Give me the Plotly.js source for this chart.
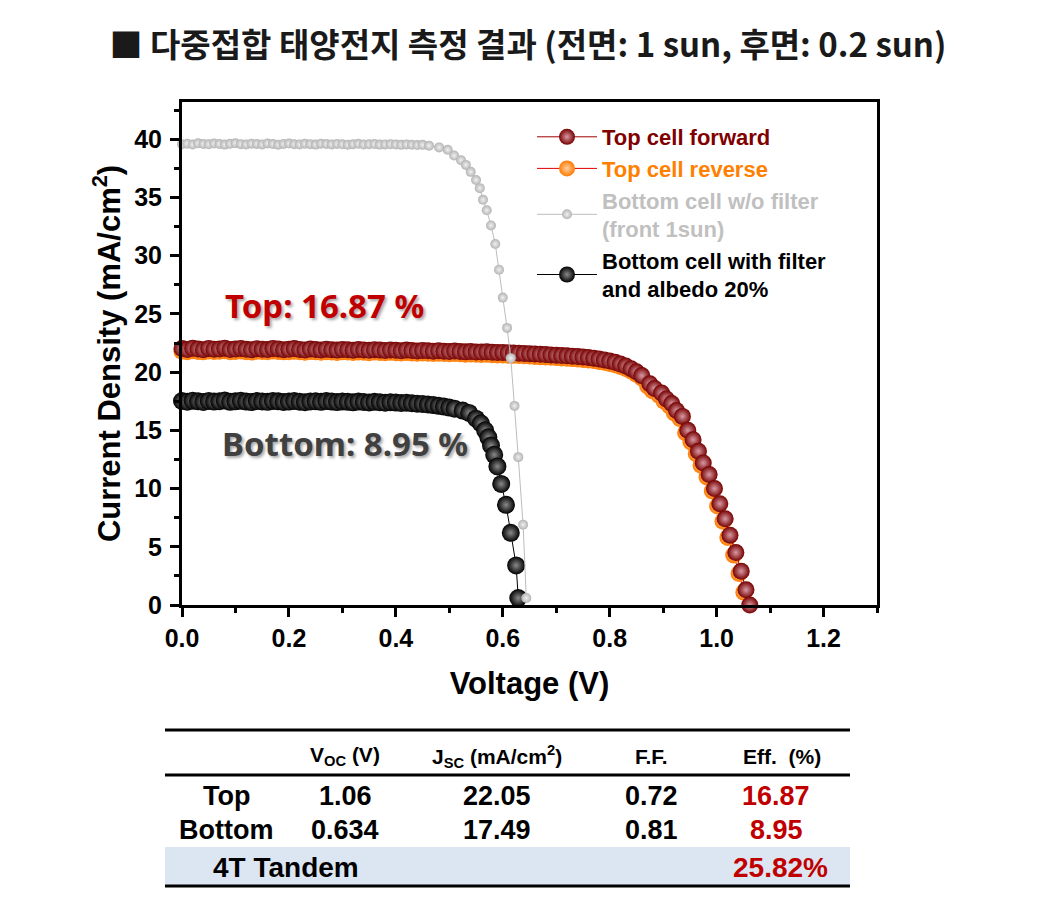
<!DOCTYPE html>
<html>
<head>
<meta charset="utf-8">
<script src="https://cdn.plot.ly/plotly-3.0.1.min.js"></script>
<style>
  html, body { margin: 0; padding: 0; background: #ffffff; }
  #chart { width: 1046px; height: 898px; }
</style>
</head>
<body>
<div id="chart"></div>
<script>
// ---------------- Data ----------------
// Top cell, forward scan
const topFwdV = [0.00,0.01,0.02,0.03,0.04,0.05,0.06,0.07,0.08,0.09,0.10,0.11,0.12,0.13,0.14,0.15,0.16,0.17,0.18,0.19,
  0.20,0.21,0.22,0.23,0.24,0.25,0.26,0.27,0.28,0.29,0.30,0.31,0.32,0.33,0.34,0.35,0.36,0.37,0.38,0.39,
  0.40,0.41,0.42,0.43,0.44,0.45,0.46,0.47,0.48,0.49,0.50,0.51,0.52,0.53,0.54,0.55,0.56,0.57,0.58,0.59,
  0.60,0.61,0.62,0.63,0.64,0.65,0.66,0.67,0.68,0.69,0.70,0.71,0.72,0.73,0.74,0.75,0.76,0.77,0.78,0.79,
  0.80,0.81,0.82,0.83,0.84,0.85,0.86,0.875,0.884,0.897,0.906,0.916,0.925,0.936,0.946,0.956,0.966,0.975,
  0.986,0.996,1.006,1.016,1.025,1.036,1.046,1.055,1.062];
const topFwdJ = [22.02,21.95,22.05,21.98,21.93,22.04,21.97,21.99,22.06,21.94,21.98,22.03,21.96,21.92,22.01,21.97,21.95,22.04,21.99,21.93,
  21.96,22.02,21.95,21.91,21.98,21.94,21.90,21.97,21.93,21.89,21.95,21.92,21.88,21.94,21.90,21.87,21.93,21.89,21.86,21.91,
  21.87,21.84,21.89,21.85,21.82,21.86,21.83,21.80,21.84,21.80,21.77,21.81,21.77,21.74,21.77,21.73,21.72,21.74,21.70,21.68,
  21.69,21.66,21.64,21.63,21.60,21.58,21.56,21.53,21.51,21.48,21.45,21.42,21.40,21.37,21.34,21.30,21.26,21.20,21.13,21.05,
  20.96,20.84,20.70,20.52,20.30,20.03,19.70,19.00,18.60,18.20,17.70,17.30,16.70,16.20,15.00,14.20,13.20,12.20,
  11.20,10.00,8.70,7.40,6.00,4.50,2.90,1.30,0.00];

// Top cell, reverse scan
const topRevV = [0.00,0.01,0.02,0.03,0.04,0.05,0.06,0.07,0.08,0.09,0.10,0.11,0.12,0.13,0.14,0.15,0.16,0.17,0.18,0.19,
  0.20,0.21,0.22,0.23,0.24,0.25,0.26,0.27,0.28,0.29,0.30,0.31,0.32,0.33,0.34,0.35,0.36,0.37,0.38,0.39,
  0.40,0.41,0.42,0.43,0.44,0.45,0.46,0.47,0.48,0.49,0.50,0.51,0.52,0.53,0.54,0.55,0.56,0.57,0.58,0.59,
  0.60,0.61,0.62,0.63,0.64,0.65,0.66,0.67,0.68,0.69,0.70,0.71,0.72,0.73,0.74,0.75,0.76,0.77,0.78,0.79,
  0.80,0.81,0.82,0.83,0.84,0.85,0.86,0.871,0.880,0.893,0.902,0.912,0.921,0.932,0.942,0.952,0.962,0.971,
  0.982,0.992,1.002,1.012,1.021,1.032,1.042,1.051,1.058];
const topRevJ = [21.80,21.76,21.83,21.78,21.74,21.82,21.77,21.79,21.84,21.75,21.78,21.81,21.76,21.73,21.80,21.77,21.75,21.82,21.78,21.74,
  21.76,21.80,21.75,21.71,21.77,21.74,21.70,21.76,21.73,21.69,21.74,21.72,21.68,21.73,21.70,21.67,21.72,21.69,21.66,21.70,
  21.67,21.64,21.68,21.65,21.62,21.65,21.63,21.60,21.63,21.60,21.57,21.60,21.57,21.54,21.56,21.53,21.52,21.53,21.50,21.48,
  21.48,21.46,21.44,21.42,21.40,21.38,21.35,21.33,21.30,21.27,21.25,21.22,21.19,21.16,21.13,21.09,21.05,20.99,20.92,20.84,
  20.75,20.63,20.49,20.31,20.09,19.82,19.49,18.80,18.40,18.00,17.50,17.10,16.50,16.00,14.80,14.00,13.00,12.00,
  11.00,9.80,8.50,7.20,5.80,4.30,2.70,1.10,-0.10];

// Bottom cell without filter (front 1 sun)
const botNoFiltV = [0.00,0.01,0.02,0.03,0.04,0.05,0.06,0.07,0.08,0.09,0.10,0.11,0.12,0.13,0.14,0.15,0.16,0.17,0.18,0.19,
  0.20,0.21,0.22,0.23,0.24,0.25,0.26,0.27,0.28,0.29,0.30,0.31,0.32,0.33,0.34,0.35,0.36,0.37,0.38,0.39,
  0.40,0.41,0.42,0.43,0.44,0.45,0.462,0.481,0.497,0.509,0.522,0.531,0.540,0.550,0.557,0.563,0.570,0.578,
  0.586,0.593,0.600,0.608,0.615,0.622,0.629,0.638,0.644];
const botNoFiltJ = [39.58,39.62,39.55,39.65,39.60,39.57,39.63,39.59,39.54,39.61,39.66,39.58,39.55,39.62,39.60,39.56,39.64,39.59,39.53,39.60,
  39.63,39.57,39.55,39.61,39.58,39.54,39.62,39.59,39.56,39.60,39.57,39.53,39.58,39.61,39.55,39.57,39.59,39.54,39.56,39.58,
  39.55,39.52,39.56,39.53,39.50,39.52,39.45,39.30,39.10,38.60,38.20,37.80,37.20,36.50,35.80,34.80,33.90,32.60,
  31.00,28.80,26.40,23.80,21.20,17.10,12.70,6.90,0.60];

// Bottom cell with filter and albedo 20%
const botFiltV = [0.00,0.01,0.02,0.03,0.04,0.05,0.06,0.07,0.08,0.09,0.10,0.11,0.12,0.13,0.14,0.15,0.16,0.17,0.18,0.19,
  0.20,0.21,0.22,0.23,0.24,0.25,0.26,0.27,0.28,0.29,0.30,0.31,0.32,0.33,0.34,0.35,0.36,0.37,0.38,0.39,
  0.40,0.41,0.42,0.43,0.44,0.45,0.46,0.47,0.48,0.49,0.50,0.51,0.525,0.537,0.550,0.559,0.567,0.573,0.578,
  0.584,0.590,0.597,0.606,0.615,0.625,0.629];
const botFiltJ = [17.52,17.46,17.55,17.49,17.44,17.53,17.47,17.50,17.56,17.45,17.49,17.54,17.47,17.43,17.51,17.48,17.45,17.53,17.49,17.44,
  17.47,17.52,17.46,17.42,17.48,17.50,17.45,17.51,17.47,17.43,17.48,17.45,17.41,17.47,17.44,17.40,17.45,17.42,17.38,17.42,
  17.39,17.35,17.37,17.33,17.29,17.27,17.22,17.17,17.11,17.04,16.96,16.86,16.70,16.50,16.00,15.60,15.00,14.40,13.70,
  12.90,11.90,10.40,8.60,6.20,3.40,0.60];

// Axis tick values
const xTicks = [0.0, 0.2, 0.4, 0.6, 0.8, 1.0, 1.2];
const xTickText = ['0.0','0.2','0.4','0.6','0.8','1.0','1.2'];
const yTicks = [0, 5, 10, 15, 20, 25, 30, 35, 40];

// Summary table
const tableHeader = ['V<sub>OC</sub> (V)', 'J<sub>SC</sub> (mA/cm<sup>2</sup>)', 'F.F.', 'Eff.  (%)'];
const rowNames = ['Top', 'Bottom'];
const vocVals = ['1.06', '0.634'];
const jscVals = ['22.05', '17.49'];
const ffVals  = ['0.72', '0.81'];
const effVals = ['16.87', '8.95'];
const tandemLabel = '4T Tandem';
const tandemEff = '25.82%';

// Series labels
const seriesNames = ['Top cell forward', 'Top cell reverse', 'Bottom cell w/o filter<br>(front 1sun)', 'Bottom cell with filter<br>and albedo 20%'];
const seriesTextColors = ['#800000', '#ff8000', '#c0c0c0', '#000000'];

// ---------------- Layout helpers (pixel -> paper) ----------------
const PL = 182, PR = 877, PT = 102, PB = 605;
const px = x => (x - PL) / (PR - PL);
const py = y => (PB - y) / (PB - PT);

const FONT = 'Liberation Sans, Arial, sans-serif';

function legName(i) {
  return '<span style="color:' + seriesTextColors[i] + '">' + seriesNames[i] + '</span>';
}

const traces = [
  { // bottom with filter (drawn first)
    x: botFiltV, y: botFiltJ, type: 'scatter', mode: 'lines+markers', name: legName(3), legendrank: 4,
    line: { color: '#000000', width: 1 }, cliponaxis: false,
    marker: { size: 18, color: '#000000', line: { width: 0 }, gradient: { type: 'radial', color: '#8a8a8a' } }
  },
  { // top reverse
    x: topRevV, y: topRevJ, type: 'scatter', mode: 'lines+markers', name: legName(1), legendrank: 2,
    line: { color: '#e00000', width: 1 }, cliponaxis: false,
    marker: { size: 17, color: '#ff7a00', line: { width: 0 }, gradient: { type: 'radial', color: '#ffd0a0' } }
  },
  { // top forward
    x: topFwdV, y: topFwdJ, type: 'scatter', mode: 'lines+markers', name: legName(0), legendrank: 1,
    line: { color: '#a00000', width: 1 }, cliponaxis: false,
    marker: { size: 17, color: '#760000', line: { width: 0 }, gradient: { type: 'radial', color: '#d89aa4' } }
  },
  { // bottom without filter (top-most)
    x: botNoFiltV, y: botNoFiltJ, type: 'scatter', mode: 'lines+markers', name: legName(2), legendrank: 3,
    line: { color: '#bdbdbd', width: 1 }, cliponaxis: false,
    marker: { size: 10, color: '#b4b4b4', line: { width: 0 }, gradient: { type: 'radial', color: '#f0f0f0' } }
  }
];

// ---------------- Table (annotations + shapes) ----------------
const annotations = [];
const shapes = [];
const tL = px(165), tR = px(850);

shapes.push({ type: 'rect', xref: 'paper', yref: 'paper', x0: tL, x1: tR, y0: py(886), y1: py(847),
  fillcolor: '#dce6f2', line: { width: 0 }, layer: 'below' });
[730, 775, 886].forEach(yy => shapes.push({ type: 'line', xref: 'paper', yref: 'paper', x0: tL, x1: tR,
  y0: py(yy), y1: py(yy), line: { color: '#000000', width: 3 } }));

const colX = [345, 497, 651, 782];
const labelX = 226;
tableHeader.forEach((h, i) => annotations.push({ xref: 'paper', yref: 'paper', x: px(colX[i]), y: py(756),
  text: h, showarrow: false, xanchor: 'center', yanchor: 'middle',
  font: { family: FONT, size: 21, color: '#000000', weight: 'bold' } }));

const rowY = [796, 830];
rowNames.forEach((r, k) => {
  const vals = [vocVals[k], jscVals[k], ffVals[k], effVals[k]];
  annotations.push({ xref: 'paper', yref: 'paper', x: px(labelX), y: py(rowY[k]), text: r, showarrow: false,
    xanchor: 'center', yanchor: 'middle', font: { family: FONT, size: 27, color: '#000000', weight: 'bold' } });
  vals.forEach((v, i) => annotations.push({ xref: 'paper', yref: 'paper', x: px(colX[i] - (i === 3 ? 6 : 0)), y: py(rowY[k]),
    text: v, showarrow: false, xanchor: 'center', yanchor: 'middle',
    font: { family: FONT, size: 27, color: i === 3 ? '#c00000' : '#000000', weight: 'bold' } }));
});
annotations.push({ xref: 'paper', yref: 'paper', x: px(286), y: py(867), text: tandemLabel, showarrow: false,
  xanchor: 'center', yanchor: 'middle', font: { family: FONT, size: 28, color: '#000000', weight: 'bold' } });
annotations.push({ xref: 'paper', yref: 'paper', x: px(780), y: py(867), text: tandemEff, showarrow: false,
  xanchor: 'center', yanchor: 'middle', font: { family: FONT, size: 28, color: '#c00000', weight: 'bold' } });

// In-plot efficiency labels
annotations.push({ xref: 'paper', yref: 'paper', x: px(324), y: py(305), text: 'Top: 16.87 %', showarrow: false,
  xanchor: 'center', yanchor: 'middle',
  font: { family: 'Noto Sans, Open Sans, sans-serif', size: 33, color: '#c00000', weight: 'bold', shadow: '2px 2px 3px rgba(0,0,0,0.35)' } });
annotations.push({ xref: 'paper', yref: 'paper', x: px(345), y: py(443), text: 'Bottom: 8.95 %', showarrow: false,
  xanchor: 'center', yanchor: 'middle',
  font: { family: 'Noto Sans, Open Sans, sans-serif', size: 33, color: '#404040', weight: 'bold', shadow: '2px 2px 3px rgba(0,0,0,0.35)' } });

const axisCommon = {
  showline: true, linewidth: 3, linecolor: '#000000', mirror: true,
  ticks: 'outside', ticklen: 9, tickwidth: 3, tickcolor: '#000000',
  showgrid: false, zeroline: false,
  tickfont: { family: FONT, size: 25, color: '#000000', weight: 'bold' },
};

const layout = {
  width: 1046, height: 898,
  margin: { l: PL, r: 1046 - PR, t: PT, b: 898 - PB, pad: 0 },
  paper_bgcolor: '#ffffff', plot_bgcolor: '#ffffff',
  title: {
    text: '■ 다중접합 태양전지 측정 결과 (전면: 1 sun, 후면: 0.2 sun)',
    font: { family: 'Noto Sans CJK KR, sans-serif', size: 33, color: '#1a1a1a', weight: 'bold' },
    xref: 'container', yref: 'container', x: 528 / 1046, xanchor: 'center', y: 1 - 45 / 898, yanchor: 'middle'
  },
  xaxis: Object.assign({}, axisCommon, {
    range: [0, 1.3], tickmode: 'array', tickvals: xTicks, ticktext: xTickText,
    minor: { dtick: 0.1, tick0: 0, ticks: 'outside', ticklen: 5, tickwidth: 3, tickcolor: '#000000' },
    title: { text: 'Voltage (V)', font: { family: FONT, size: 31, color: '#000000', weight: 'bold' }, standoff: 22 }
  }),
  yaxis: Object.assign({}, axisCommon, {
    range: [0, 43.2], tickmode: 'array', tickvals: yTicks,
    minor: { dtick: 2.5, tick0: 0, ticks: 'outside', ticklen: 5, tickwidth: 3, tickcolor: '#000000' },
    ticklabelstandoff: 3,
    title: { text: 'Current Density (mA/cm<sup>2</sup>)', font: { family: FONT, size: 31, color: '#000000', weight: 'bold' }, standoff: 5 }
  }),
  showlegend: true,
  legend: {
    x: px(532), y: py(116), xanchor: 'left', yanchor: 'top',
    bgcolor: 'rgba(0,0,0,0)', borderwidth: 0,
    font: { family: FONT, size: 22, color: '#000000', weight: 'bold' },
    itemwidth: 60, traceorder: 'normal'
  },
  shapes: shapes,
  annotations: annotations
};

Plotly.newPlot('chart', traces, layout, { displayModeBar: false, staticPlot: true });
</script>
</body>
</html>
